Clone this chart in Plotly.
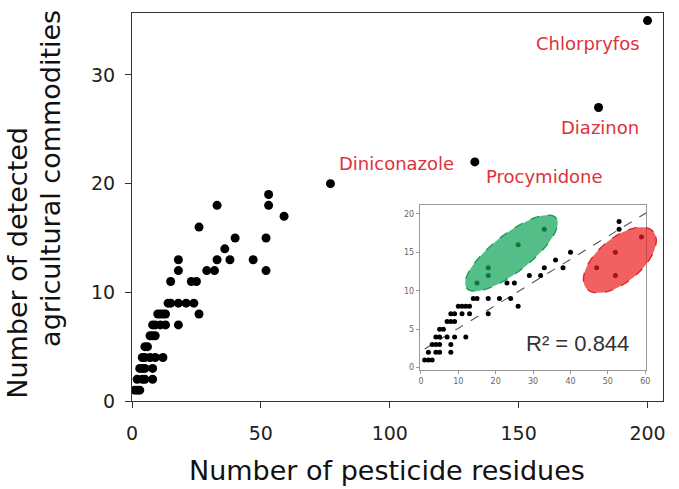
import numpy as np
import plotly.graph_objects as go

# ---------------- data ----------------
residues = [1, 2, 3,
            2, 4, 5, 8,
            3, 4, 5, 8,
            4, 5, 7, 9, 12,
            5, 6,
            7, 8, 9,
            8, 9, 11, 13, 18,
            10, 11, 12, 13, 26,
            14, 15, 18, 21, 24,
            15, 23, 25,
            18, 29, 32, 52,
            18, 33, 38, 47,
            36,
            40, 52,
            26,
            59,
            33, 53,
            53,
            77, 133, 181, 200]
commodities = [1, 1, 1,
               2, 2, 2, 2,
               3, 3, 3, 3,
               4, 4, 4, 4, 4,
               5, 5,
               6, 6, 6,
               7, 7, 7, 7, 7,
               8, 8, 8, 8, 8,
               9, 9, 9, 9, 9,
               11, 11, 11,
               12, 12, 12, 12,
               13, 13, 13, 13,
               14,
               15, 15,
               16,
               17,
               18, 18,
               19,
               20, 22, 27, 35]

label_names = ["Diniconazole", "Procymidone", "Diazinon", "Chlorpryfos"]
label_x = [77, 133, 181, 200]
label_y = [20, 22, 27, 35]

x_ticks = [0, 50, 100, 150, 200]
y_ticks = [0, 10, 20, 30]
inset_x_ticks = [0, 10, 20, 30, 40, 50, 60]
inset_y_ticks = [0, 5, 10, 15, 20]
inset_max_x = 60

trend_slope = 0.299
trend_intercept = 2.13
r2_text = "R² = 0.844"

# ---------------- layout geometry / style ----------------
W, H = 679, 489
ML, MR, MT, MB = 132, 14, 12, 88
PW, PH = W - ML - MR, H - MT - MB

x_range = [0, 206]
y_range = [0, 35.7]
ix_range = [-0.3, 60.2]
iy_range = [-0.3, 21.1]
ix_dom = [0.542, 0.968]
iy_dom = [0.080, 0.504]

FONT = "DejaVu Sans"
RED = "#e0313a"
TXT = "#111"

# label pixel offsets (xshift, yshift)
label_shift = {"Diniconazole": (66, 20), "Procymidone": (70, -15),
               "Diazinon": (1, -20), "Chlorpryfos": (-60, -23)}

res = np.array(residues)
com = np.array(commodities)
mask = res <= inset_max_x

fig = go.Figure()

# main scatter
fig.add_trace(go.Scatter(x=res, y=com, mode="markers",
                         marker=dict(color="black", size=9),
                         xaxis="x", yaxis="y", showlegend=False,
                         hoverinfo="x+y"))

# inset trend line
tx = np.array([1.0, ix_range[1]])
fig.add_trace(go.Scatter(x=tx, y=trend_slope * tx + trend_intercept,
                         mode="lines",
                         line=dict(color="#555", width=1.1, dash="dash"),
                         xaxis="x2", yaxis="y2", showlegend=False,
                         hoverinfo="skip"))

# inset scatter
fig.add_trace(go.Scatter(x=res[mask], y=com[mask], mode="markers",
                         marker=dict(color="black", size=5),
                         xaxis="x2", yaxis="y2", showlegend=False,
                         hoverinfo="x+y"))


def inset_to_paper(X, Y):
    px = ix_dom[0] + (X - ix_range[0]) / (ix_range[1] - ix_range[0]) * (ix_dom[1] - ix_dom[0])
    py = iy_dom[0] + (Y - iy_range[0]) / (iy_range[1] - iy_range[0]) * (iy_dom[1] - iy_dom[0])
    return px, py


def ellipse_path(cx, cy, a_px, b_px, ang_deg, n=80):
    px0, py0 = inset_to_paper(cx, cy)
    t = np.linspace(0, 2 * np.pi, n)
    th = np.deg2rad(ang_deg)
    dx = a_px * np.cos(t) * np.cos(th) - b_px * np.sin(t) * np.sin(th)
    dy = a_px * np.cos(t) * np.sin(th) + b_px * np.sin(t) * np.cos(th)
    xs = px0 + dx / PW
    ys = py0 + dy / PH
    pts = [f"{x:.5f},{y:.5f}" for x, y in zip(xs, ys)]
    return "M" + " L".join(pts) + " Z"


# clusters: (center x, center y, semi-major px, semi-minor px, angle)
green_ellipse = (24.2, 14.9, 57, 19, 38)
red_ellipse = (53.2, 14.0, 44, 22, 40)

shapes = [
    dict(type="path", xref="paper", yref="paper", layer="above",
         path=ellipse_path(*green_ellipse),
         fillcolor="rgba(20,165,90,0.72)",
         line=dict(color="rgba(20,150,80,1)", width=1.3, dash="dash")),
    dict(type="path", xref="paper", yref="paper", layer="above",
         path=ellipse_path(*red_ellipse),
         fillcolor="rgba(235,30,30,0.70)",
         line=dict(color="rgba(220,30,30,1)", width=1.3, dash="dash")),
]

annotations = []
for name, lx, ly in zip(label_names, label_x, label_y):
    sx, sy = label_shift[name]
    annotations.append(dict(x=lx, y=ly, xref="x", yref="y", text=name,
                            showarrow=False, xshift=sx, yshift=sy,
                            xanchor="center", yanchor="middle",
                            font=dict(family=FONT, size=18, color=RED)))

# axis titles
annotations.append(dict(x=(388 - ML) / PW, y=(401 - 471) / PH, xref="paper", yref="paper",
                        text="Number of pesticide residues", showarrow=False,
                        xanchor="center", yanchor="middle",
                        font=dict(family=FONT, size=27, color=TXT)))
annotations.append(dict(x=(17 - ML) / PW, y=(401 - 262) / PH, xref="paper", yref="paper",
                        text="Number of detected", showarrow=False, textangle=-90,
                        xanchor="center", yanchor="middle",
                        font=dict(family=FONT, size=27, color=TXT)))
annotations.append(dict(x=(50 - ML) / PW, y=(401 - 178) / PH, xref="paper", yref="paper",
                        text="agricultural commodities", showarrow=False, textangle=-90,
                        xanchor="center", yanchor="middle",
                        font=dict(family=FONT, size=27, color=TXT)))

# R² text in inset
annotations.append(dict(x=41.9, y=3.2, xref="x2", yref="y2", text=r2_text,
                        showarrow=False, xanchor="center", yanchor="middle",
                        font=dict(family="Liberation Sans", size=22, color="#333")))

fig.update_layout(
    width=W, height=H,
    margin=dict(l=ML, r=MR, t=MT, b=MB, pad=0),
    paper_bgcolor="white", plot_bgcolor="white",
    showlegend=False,
    xaxis=dict(range=x_range, tickvals=x_ticks, showgrid=False, zeroline=False,
               showline=True, mirror=True, linecolor="#333", linewidth=1,
               ticks="outside", ticklen=6, tickcolor="#333",
               ticklabelstandoff=9,
               tickfont=dict(family=FONT, size=19, color="#222")),
    yaxis=dict(range=y_range, tickvals=y_ticks, showgrid=False, zeroline=False,
               showline=True, mirror=True, linecolor="#333", linewidth=1,
               ticks="outside", ticklen=6, tickcolor="#333",
               ticklabelstandoff=6,
               tickfont=dict(family=FONT, size=19, color="#222")),
    xaxis2=dict(domain=ix_dom, anchor="y2", range=ix_range, tickvals=inset_x_ticks,
                showgrid=False, zeroline=False, showline=True, mirror=True,
                linecolor="#999", linewidth=1, ticks="outside", ticklen=3,
                tickcolor="#999", tickfont=dict(family=FONT, size=8, color="#666")),
    yaxis2=dict(domain=iy_dom, anchor="x2", range=iy_range, tickvals=inset_y_ticks,
                showgrid=False, zeroline=False, showline=True, mirror=True,
                linecolor="#999", linewidth=1, ticks="outside", ticklen=3,
                tickcolor="#999", tickfont=dict(family=FONT, size=8, color="#666")),
    shapes=shapes,
    annotations=annotations,
)

fig.write_html("out.html")
